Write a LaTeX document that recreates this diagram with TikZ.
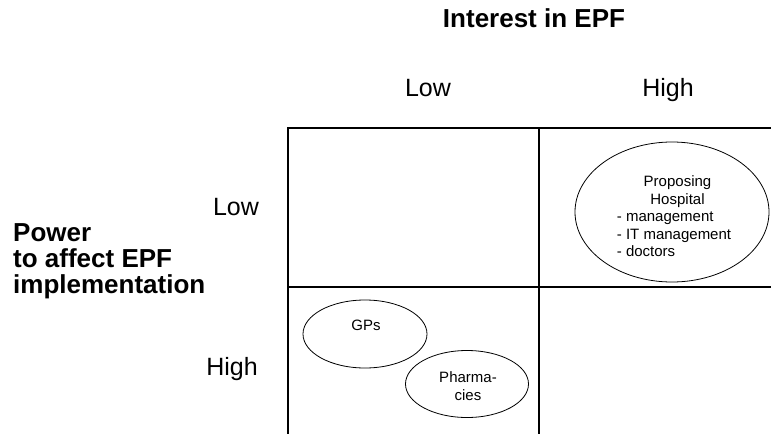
\documentclass[tikz,border=0pt]{standalone}
\usepackage{fontspec}
\setmainfont{Liberation Sans}
\usetikzlibrary{shapes,positioning}

\begin{document}
\begin{tikzpicture}[x=1pt,y=-1pt,
  quadline/.style={line width=1.6pt},
  axislabel/.style={anchor=base, font=\fontsize{25}{28}\selectfont},
  axistitle/.style={inner sep=0pt, font=\fontsize{26}{25}\bfseries\selectfont},
  group/.style={draw, ellipse, line width=0.8pt, inner sep=0pt},
  grouptext/.style={anchor=base, inner sep=0pt, align=center,
    font=\fontsize{15}{17.5}\selectfont}]
\useasboundingbox (0,0) rectangle (771,434);
% Quadrant grid
\draw[quadline] (771,128) -- (288,128) -- (288,434);
\draw[quadline] (539,128) -- (539,434);
\draw[quadline] (288,287) -- (771,287);

% Axis titles
\node[axistitle, anchor=base] (interest) at (534,27) {Interest in EPF};
\node[axistitle, anchor=base west] (power) at (13,241)
  {\begin{tabular}[t]{@{}l@{}}Power\\to affect EPF\\implementation\end{tabular}};

% Level labels
\node[axislabel] (lowtop) at (428,96) {Low};
\node[axislabel] (hightop) at (668,96) {High};
\node[axislabel] (lowleft) at (236,215) {Low};
\node[axislabel] (highleft) at (232,375) {High};

% Stakeholder groups
\node[group, minimum width=194, minimum height=140] (hospital) at (672,212) {};
\node[grouptext] (hospitaltext) at (674,186.5)
  {\begin{tabular}[t]{@{}l@{}}\multicolumn{1}{@{}c@{}}{\hspace*{7pt}Proposing}\\
   \multicolumn{1}{@{}c@{}}{\hspace*{7pt}Hospital}\\
   - management\\- IT management\\- doctors\end{tabular}};
\node[group, minimum width=124, minimum height=68] (gps) at (365,334) {};
\node[grouptext] (gpstext) at (366,330) {GPs};
\node[group, minimum width=123, minimum height=67] (pharma) at (467,384) {};
\node[grouptext] (pharmatext) at (468,400) {Pharma-\\cies};
\end{tikzpicture}
\end{document}
